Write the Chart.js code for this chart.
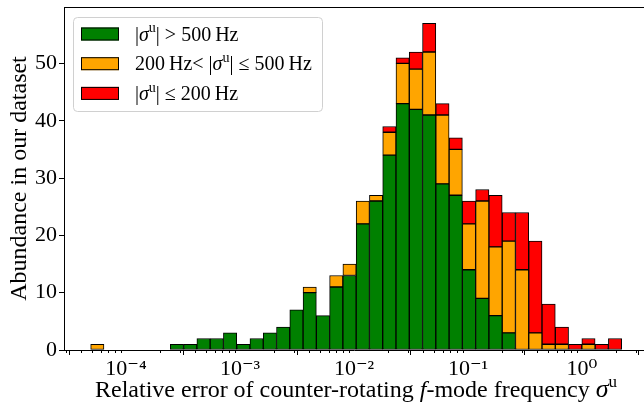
<!DOCTYPE html>
<html lang="en">
<head>
    <meta charset="UTF-8">
    <title>Relative error of counter-rotating f-mode frequency</title>
    <script src="https://cdn.jsdelivr.net/npm/chart.js"></script>
    <style>
        html, body { margin: 0; padding: 0; background: white; }
        #wrap { width: 644px; height: 405px; position: relative; }
    </style>
</head>
<body>
<div id="wrap"><canvas id="histChart"></canvas></div>
<script>
    // 40 log-spaced bins (log10 of the edges)
    const binLogMin = -4.31;
    const binLogMax = 0.348;
    const nBins = 40;

    // counts per bin, one array per class of |sigma^u|
    const countHigh = [0,0,0,0,0,0,1,1,2,2, 3,1,2,3,4,7,10,6,11,13, 22,26,34,43,42,41,29,27,14,9, 6,3,0,0,0,0,0,0,0,0];
    const countMid  = [1,0,0,0,0,0,0,0,0,0, 0,0,0,0,0,0,1,0,2,2, 4,1,4,7,7,11,12,8,8,17, 12,16,14,3,1,1,0,1,0,0];
    const countLow  = [0,0,0,0,0,0,0,0,0,0, 0,0,0,0,0,0,0,0,0,0, 0,0,1,1,3,5,2,2,4,2, 9,5,10,16,7,3,1,1,1,2];

    const majorTicks = [-4, -3, -2, -1, 0];
    const tickLabels = ['10\u207B\u2074', '10\u207B\u00B3', '10\u207B\u00B2', '10\u207B\u00B9', '10\u2070'];
    const yTicks = [0, 10, 20, 30, 40, 50];

    const seriesNames = ['|σu| > 500 Hz', '200 Hz< |σu| ≤ 500 Hz', '|σu| ≤ 200 Hz'];
    const seriesColors = ['#008000', '#FFA500', '#FF0000'];

    const SERIF = "'Liberation Serif', 'DejaVu Serif', serif";

    const binWidth = (binLogMax - binLogMin) / nBins;
    const binCentres = countHigh.map((_, i) => binLogMin + (i + 0.5) * binWidth);
    const toPoints = arr => arr.map((v, i) => ({ x: binCentres[i], y: v === 0 ? null : v }));

    // rich text pieces for legend and x title (italic sigma, superscript u)
    const legendText = [
        [{ t: '|' }, { t: 'σ', it: true }, { t: 'u', sup: true }, { t: '| > 500\u2009Hz' }],
        [{ t: '200\u2009Hz< |' }, { t: 'σ', it: true }, { t: 'u', sup: true }, { t: '| ≤ 500\u2009Hz' }],
        [{ t: '|' }, { t: 'σ', it: true }, { t: 'u', sup: true }, { t: '| ≤ 200\u2009Hz' }]
    ];
    const xTitle = [
        { t: 'Relative error of counter-rotating ' }, { t: 'f', it: true },
        { t: '-mode frequency ' }, { t: 'σ', it: true, big: true }, { t: 'u', sup: true }
    ];

    function drawRich(ctx, segs, x, y, size, align) {
        const fontOf = s => (s.it ? 'italic ' : '') + Math.round(s.sup ? size * 0.72 : (s.big ? size * 1.1 : size)) + 'px ' + SERIF;
        let total = 0;
        segs.forEach(s => { ctx.font = fontOf(s); total += ctx.measureText(s.t).width; });
        let cx = align === 'center' ? x - total / 2 : x;
        ctx.textAlign = 'left';
        ctx.textBaseline = 'alphabetic';
        ctx.fillStyle = '#000';
        segs.forEach(s => {
            ctx.font = fontOf(s);
            ctx.fillText(s.t, cx, s.sup ? y - size * 0.42 : y);
            cx += ctx.measureText(s.t).width;
        });
    }

    const extras = {
        id: 'extras',
        afterDraw(chart) {
            const ctx = chart.ctx;
            const area = chart.chartArea;
            const xs = chart.scales.x;
            ctx.save();

            // top spine
            ctx.strokeStyle = '#000';
            ctx.lineWidth = 1;
            ctx.beginPath();
            ctx.moveTo(area.left, area.top + 0.5);
            ctx.lineTo(area.right, area.top + 0.5);
            ctx.stroke();

            // minor log ticks
            ctx.beginPath();
            for (let n = -5; n <= 0; n++) {
                for (let k = 2; k <= 9; k++) {
                    const v = n + Math.log10(k);
                    if (v < xs.min || v > xs.max) continue;
                    const px = Math.round(xs.getPixelForValue(v)) + 0.5;
                    ctx.moveTo(px, area.bottom);
                    ctx.lineTo(px, area.bottom + 3);
                }
            }
            ctx.stroke();

            // x axis title
            drawRich(ctx, xTitle, 356, 397, 24, 'center');

            // legend
            const lx = 73.5, ly = 17.5, lw = 249, lh = 94;
            ctx.beginPath();
            ctx.roundRect(lx, ly, lw, lh, 4);
            ctx.fillStyle = 'rgba(255,255,255,0.8)';
            ctx.fill();
            ctx.strokeStyle = '#d0d0d0';
            ctx.stroke();
            legendText.forEach((segs, i) => {
                const cy = 34 + i * 29.7;
                ctx.fillStyle = seriesColors[i];
                ctx.fillRect(81, cy - 6.5, 38, 13);
                ctx.strokeStyle = '#000';
                ctx.strokeRect(81.5, cy - 6, 37, 12);
                drawRich(ctx, segs, 135, cy + 6.5, 20, 'left');
            });
            ctx.restore();
        }
    };

    const barStyle = {
        borderColor: '#000',
        borderWidth: 1,
        borderSkipped: false,
        barPercentage: 1,
        categoryPercentage: 1
    };

    new Chart(document.getElementById('histChart'), {
        type: 'bar',
        data: {
            datasets: [
                { label: seriesNames[0], data: toPoints(countHigh), backgroundColor: seriesColors[0], ...barStyle },
                { label: seriesNames[1], data: toPoints(countMid), backgroundColor: seriesColors[1], ...barStyle },
                { label: seriesNames[2], data: toPoints(countLow), backgroundColor: seriesColors[2], ...barStyle }
            ]
        },
        options: {
            responsive: true,
            maintainAspectRatio: false,
            animation: false,
            layout: { padding: { top: 7, right: 0, left: 0, bottom: 0 } },
            plugins: { legend: { display: false }, tooltip: { enabled: false } },
            scales: {
                x: {
                    type: 'linear',
                    min: -4.544,
                    max: 0.544,
                    stacked: true,
                    offset: false,
                    afterBuildTicks: s => { s.ticks = majorTicks.map(v => ({ value: v })); },
                    afterFit: s => { s.height = 55; s.paddingLeft = 0; s.paddingRight = 0; },
                    ticks: {
                        callback: (v, i) => tickLabels[i],
                        font: { family: SERIF, size: 22 },
                        color: '#000',
                        padding: 1,
                        maxRotation: 0,
                        autoSkip: false
                    },
                    grid: { drawOnChartArea: false, tickLength: 5, color: '#000' },
                    border: { color: '#000', width: 1 }
                },
                y: {
                    min: 0,
                    max: 59.85,
                    stacked: true,
                    afterBuildTicks: s => { s.ticks = yTicks.map(v => ({ value: v })); },
                    afterFit: s => { s.width = 64; s.paddingTop = 0; s.paddingBottom = 0; },
                    ticks: {
                        font: { family: SERIF, size: 22 },
                        color: '#000',
                        padding: 2
                    },
                    grid: { drawOnChartArea: false, tickLength: 5, color: '#000' },
                    border: { color: '#000', width: 1 },
                    title: {
                        display: true,
                        text: 'Abundance in our dataset',
                        font: { family: SERIF, size: 24 },
                        color: '#000',
                        padding: { top: 5, bottom: 0 }
                    }
                }
            }
        },
        plugins: [extras]
    });
</script>
</body>
</html>
